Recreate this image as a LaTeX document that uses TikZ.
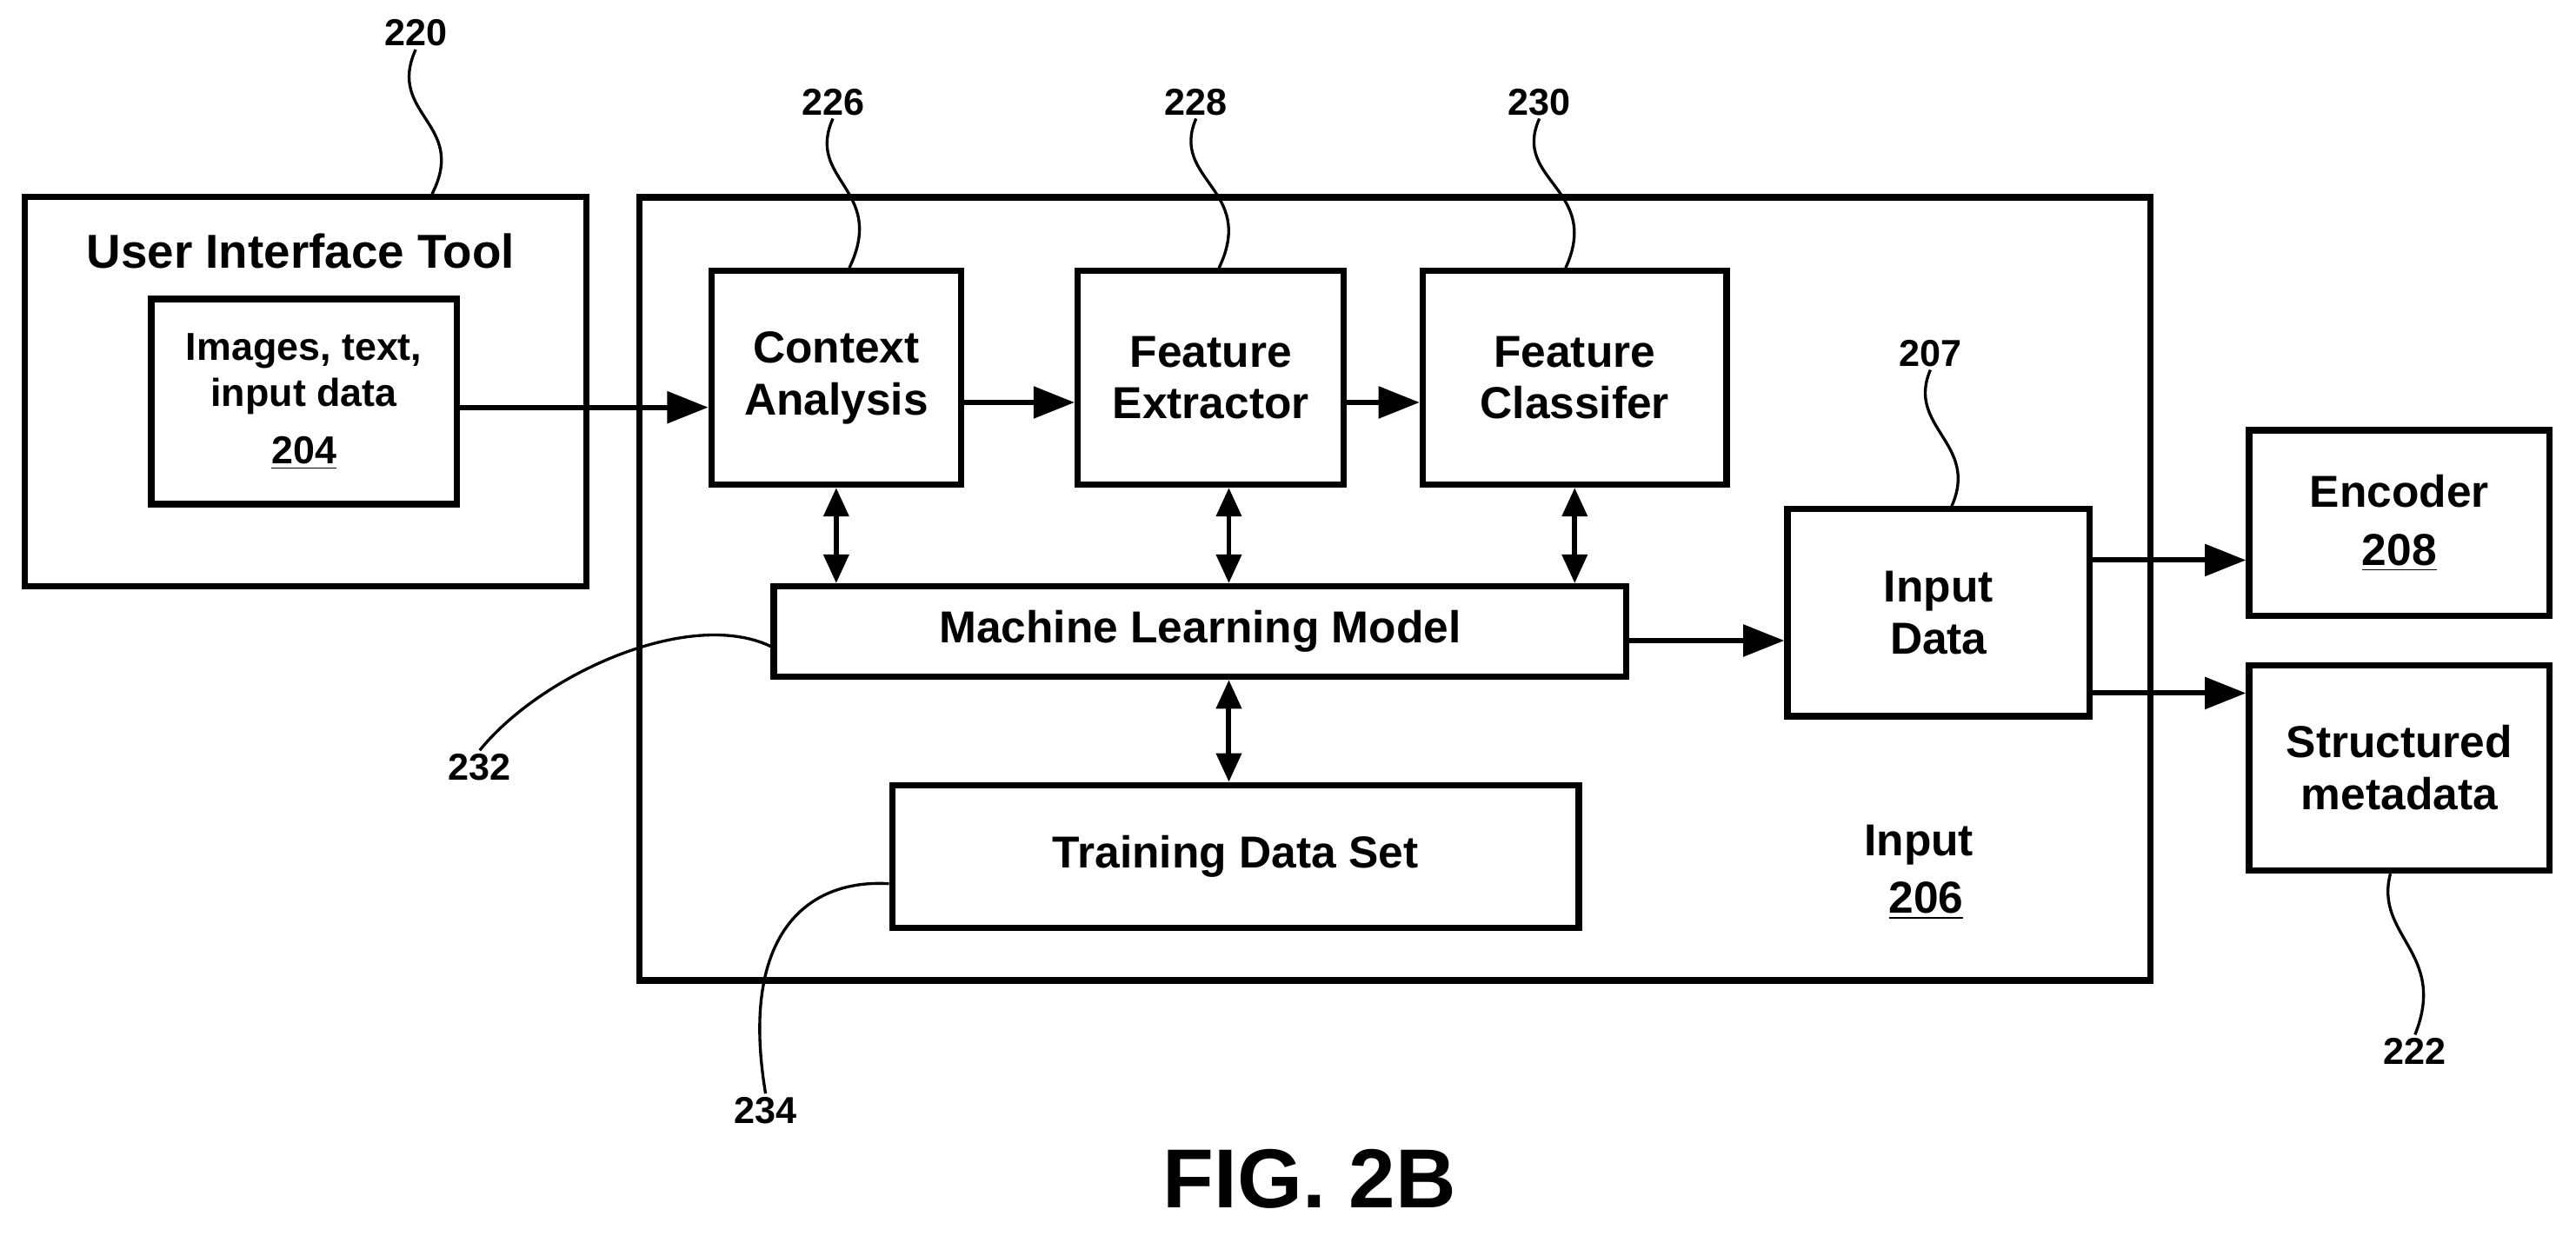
\documentclass[tikz,border=0pt]{standalone}
\usepackage{fontspec}
\setmainfont{Liberation Sans}
\usetikzlibrary{arrows.meta, positioning, calc}

\begin{document}
\begin{tikzpicture}[
		x=0.02cm, y=-0.02cm,
		font=\bfseries\fontsize{15.5}{18}\selectfont,
		% Node Styles
		box/.style={draw, line width=2.2pt, align=center, inner sep=0pt},
		num/.style={font=\bfseries\fontsize{13}{15}\selectfont, inner sep=1pt},
		arr/.style={-{Triangle[length=0.5cm, width=0.38cm]}, line width=1.8pt},
		dbl/.style={{Triangle[length=0.35cm, width=0.3cm]}-{Triangle[length=0.35cm, width=0.3cm]}, line width=1.8pt},
		lead/.style={line width=1pt}
		]
		\useasboundingbox (0,0) rectangle (1568,752);
		
		%% ================= BOXES =================
		\node[box, minimum width=6.84cm, minimum height=4.74cm] (ui) at (186,238.5) {};
		\node[font=\bfseries\fontsize{16.5}{19}\selectfont] (uititle) at (183,153) {User Interface Tool};
		\node[box, minimum width=3.72cm, minimum height=2.5cm, font=\bfseries\fontsize{13.5}{16}\selectfont] (imgs) at (185,244.5) {Images, text,\\input data\\[4pt]\underline{204}};
		
		\node[box, minimum width=18.4cm, minimum height=9.54cm] (input) at (849,358.5) {};
		\node[box, minimum width=3.04cm, minimum height=2.6cm] (ctx) at (509,230) {Context\\Analysis};
		\node[box, minimum width=3.24cm, minimum height=2.6cm] (ext) at (737,230) {Feature\\Extractor};
		\node[box, minimum width=3.7cm, minimum height=2.6cm] (cls) at (958.5,230) {Feature\\Classifer};
		\node[box, minimum width=10.38cm, minimum height=1.1cm] (ml) at (730.5,384.5) {Machine Learning Model};
		\node[box, minimum width=8.36cm, minimum height=1.74cm] (train) at (752,521.5) {Training Data Set};
		\node[box, minimum width=3.68cm, minimum height=2.52cm] (inp) at (1180,373) {Input\\Data};
		\node[align=left] (inlabel) at (1168,531) {Input\\[2pt]\hspace*{0.3cm}\underline{206}};
		
		\node[box, minimum width=3.66cm, minimum height=2.26cm] (enc) at (1460.5,318.5) {Encoder\\[2pt]\underline{208}};
		\node[box, minimum width=3.66cm, minimum height=2.5cm] (meta) at (1460.5,467.5) {Structured\\metadata};
		
		\node[font=\bfseries\fontsize{29}{32}\selectfont] (fig) at (797,718) {FIG. 2B};
		
		%% ================= ARROWS =================
		\draw[arr] ([yshift=-0.07cm]imgs.east) -- ([yshift=-0.07cm]imgs.east -| ctx.west);
		\draw[arr] ([yshift=-0.3cm]ctx.east) -- ([yshift=-0.3cm]ctx.east -| ext.west);
		\draw[arr] ([yshift=-0.3cm]ext.east) -- ([yshift=-0.3cm]ext.east -| cls.west);
		\draw[dbl] (ctx.south) -- (ctx.south |- ml.north);
		\draw[dbl] ([xshift=0.22cm]ext.south) -- ([xshift=0.22cm]ext.south |- ml.north);
		\draw[dbl] (cls.south) -- (cls.south |- ml.north);
		\draw[dbl] ([xshift=0.35cm]ml.south) -- ([xshift=0.35cm]ml.south |- train.north);
		\draw[arr] ([yshift=-0.11cm]ml.east) -- ([yshift=-0.11cm]ml.east -| inp.west);
		\draw[arr] ([yshift=0.64cm]inp.east) -- ([yshift=0.64cm]inp.east -| enc.west);
		\draw[arr] ([yshift=-0.98cm]inp.east) -- ([yshift=-0.98cm]inp.east -| meta.west);
		
		%% ================= REFERENCE NUMERALS =================
		\node[num] (n220) at (253,20) {220};
		\node[num] (n226) at (507,62) {226};
		\node[num] (n228) at (728,62) {228};
		\node[num] (n230) at (937,62) {230};
		\node[num] (n207) at (1175,215) {207};
		\node[num] (n232) at (292,467) {232};
		\node[num] (n234) at (466,676) {234};
		\node[num] (n222) at (1470,640) {222};
		
		\draw[lead] (n220.south) .. controls (235,70) and (285,75) .. ([xshift=1.54cm]ui.north);
		\draw[lead] (n226.south) .. controls (490,110) and (540,115) .. ([xshift=0.16cm]ctx.north);
		\draw[lead] (n228.south) .. controls (712,110) and (765,115) .. ([xshift=0.1cm]ext.north);
		\draw[lead] (n230.south) .. controls (920,110) and (975,115) .. ([xshift=-0.11cm]cls.north);
		\draw[lead] (n207.south) .. controls (1160,260) and (1205,270) .. ([xshift=0.16cm]inp.north);
		\draw[lead] (n232.north) .. controls (330,410) and (420,370) .. ([yshift=-0.18cm]ml.west);
		\draw[lead] (n234.north) .. controls (450,570) and (490,535) .. ([yshift=-0.33cm]train.west);
		\draw[lead] (n222.north) .. controls (1490,580) and (1445,570) .. ([xshift=-0.11cm]meta.south);
		
\end{tikzpicture}
\end{document}
